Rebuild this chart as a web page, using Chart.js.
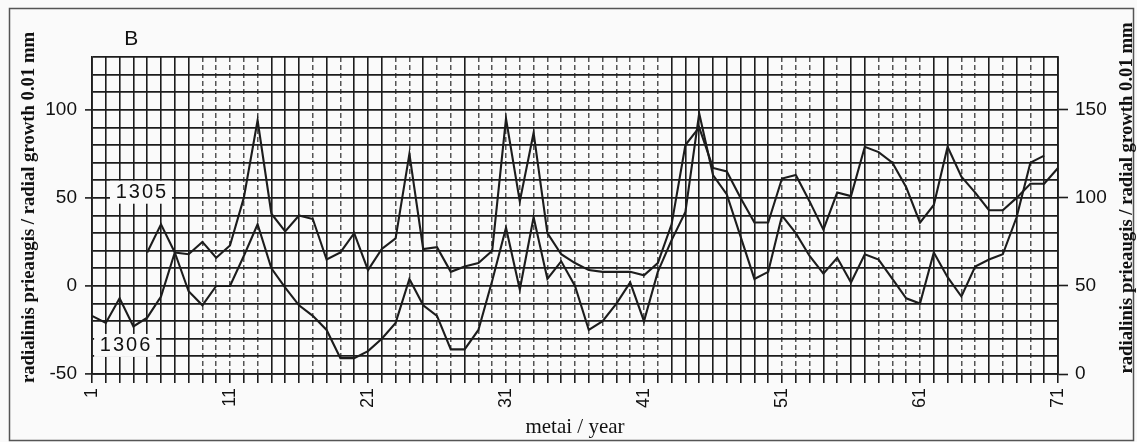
<!DOCTYPE html>
<html>
<head>
<meta charset="utf-8">
<script src="https://cdn.jsdelivr.net/npm/chart.js@4/dist/chart.umd.min.js"></script>
<style>
html,body{margin:0;padding:0;background:#fff;}
canvas{display:block;}
</style>
</head>
<body>
<canvas id="c" width="1137" height="442"></canvas>
<script>
// ---- data ----
const years = [1,2,3,4,5,6,7,8,9,10,11,12,13,14,15,16,17,18,19,20,
  21,22,23,24,25,26,27,28,29,30,31,32,33,34,35,36,37,38,39,40,
  41,42,43,44,45,46,47,48,49,50,51,52,53,54,55,56,57,58,59,60,
  61,62,63,64,65,66,67,68,69,70,71];

// sample 1305 – left axis
const series1305 = [null,null,null,null,19,35,19,18,25,16,
  23,50,94,41,31,40,38,15,19,30,
  9,21,27,75,21,22,8,11,13,20,
  95,48,87,30,18,13,9,8,8,8,
  6,13,35,80,90,67,65,50,36,36,
  61,63,48,32,53,51,79,76,70,56,
  36,46,79,62,53,43,43,50,58,58,67];

// sample 1306 – right axis
const series1306 = [33,29,43,27,32,44,69,47,39,50,
  50,67,85,60,49,39,33,25,9,9,
  13,20,29,54,39,33,14,14,25,53,
  83,48,89,54,64,50,25,30,40,52,
  30,58,76,92,148,113,102,78,54,58,
  90,80,67,57,66,52,68,65,54,43,
  40,69,55,44,61,65,68,89,120,124,null];

const leftTicks = [-50, 0, 50, 100];
const rightTicks = [0, 50, 100, 150];
const labeledYears = [1, 11, 21, 31, 41, 51, 61, 71];
const fadedYears = [9,10,11,12,13,17,19,23,24,26,27,29,30,31,32,33,34,35,36,37,38,39,40,41,42,51,52,53,55,58,59,60,61,64,65,67,69];
const seriesNames = ['1305', '1306'];
const axisTitle = 'radialinis prieaugis / radial growth 0.01 mm';
const xTitle = 'metai / year';
const panelLetter = 'B';

// ---- styling ----
const ink = '#1c1c1c';
const clear = 'rgba(0,0,0,0)';
const paper = '#fafafa';
const sans = '"Liberation Sans", Arial, sans-serif';
const serif = '"Liberation Serif", "Times New Roman", serif';

const decor = {
  id: 'decor',
  beforeDraw(chart) {
    const {ctx} = chart;
    ctx.save();
    ctx.fillStyle = paper;
    ctx.fillRect(0, 0, chart.width, chart.height);
    ctx.restore();
  },
  afterDraw(chart) {
    const {ctx, scales} = chart;
    const x = scales.x, y = scales.y;
    ctx.save();
    // outer frame
    ctx.strokeStyle = '#555';
    ctx.lineWidth = 1.5;
    ctx.strokeRect(9.5, 8.5, 1124, 432);

    // panel letter, with a gap in the top grid line
    const bx = x.getPixelForValue(2.85), by = 39;
    ctx.fillStyle = paper;
    ctx.fillRect(bx - 12, by - 14, 25, 26);
    ctx.fillStyle = '#111';
    ctx.font = '21px ' + sans;
    ctx.textAlign = 'center';
    ctx.textBaseline = 'middle';
    ctx.fillText(panelLetter, bx, by);

    // series labels with white boxes
    ctx.font = '20px ' + sans;
    if ('letterSpacing' in ctx) ctx.letterSpacing = '2px';
    const lab = [
      {t: seriesNames[0], xi: 3.55, yv: 53.5},
      {t: seriesNames[1], xi: 2.40, yv: -33.5}
    ];
    lab.forEach(l => {
      const px = x.getPixelForValue(l.xi), py = y.getPixelForValue(l.yv);
      ctx.fillStyle = paper;
      ctx.fillRect(px - 31, py - 11, 62, 23);
      ctx.fillStyle = '#111';
      ctx.fillText(l.t, px + 1, py + 1);
    });
    if ('letterSpacing' in ctx) ctx.letterSpacing = '0px';

    // axis titles (both read bottom-to-top)
    ctx.font = 'bold 18.7px ' + serif;
    ctx.fillStyle = '#111';
    [[29.5, 207.5], [1127, 198]].forEach(([tx, ty]) => {
      ctx.save();
      ctx.translate(tx, ty);
      ctx.rotate(-Math.PI / 2);
      ctx.fillText(axisTitle, 0, 0);
      ctx.restore();
    });
    ctx.restore();
  }
};

new Chart(document.getElementById('c'), {
  type: 'line',
  data: {
    labels: years,
    datasets: [
      {label: seriesNames[0], data: series1305, yAxisID: 'y', xAxisID: 'x',
       borderColor: ink, borderWidth: 2.1, pointRadius: 0, tension: 0, spanGaps: false},
      {label: seriesNames[1], data: series1306, yAxisID: 'y2', xAxisID: 'x',
       borderColor: ink, borderWidth: 2.1, pointRadius: 0, tension: 0, spanGaps: false}
    ]
  },
  options: {
    responsive: false,
    animation: false,
    devicePixelRatio: 1,
    events: [],
    layout: {padding: {top: 57, left: 0, right: 0, bottom: 0}},
    plugins: {legend: {display: false}, tooltip: {enabled: false}},
    scales: {
      x: {
        type: 'category', position: 'bottom', offset: false,
        grid: {
          color: c => fadedYears.includes(years[c.index]) ? clear : ink,
          lineWidth: 1.6, tickLength: 9, tickColor: ink, tickWidth: 1.6
        },
        border: {display: true, color: ink, width: 1.8},
        ticks: {
          autoSkip: false, minRotation: 90, maxRotation: 90, padding: 5,
          color: '#111', font: {family: sans, size: 18},
          callback: function (v, i) { return labeledYears.includes(years[i]) ? String(years[i]) : ''; }
        },
        title: {display: true, text: xTitle, color: '#111',
                font: {family: serif, size: 21}, padding: {top: 0, bottom: 2}},
        afterFit: s => { s.height = 68; }
      },
      x2: {
        type: 'category', position: 'bottom', offset: false,
        grid: {
          color: c => fadedYears.includes(years[c.index]) ? '#555' : clear,
          lineWidth: 1.5, drawTicks: false
        },
        border: {display: false, dash: [5, 3]},
        ticks: {display: false},
        afterFit: s => { s.height = 0; }
      },
      y: {
        position: 'left', min: -50, max: 130,
        ticks: {
          stepSize: 10, autoSkip: false, padding: 8, color: '#111',
          font: {family: sans, size: 19},
          callback: v => leftTicks.includes(v) ? String(v) : ''
        },
        grid: {
          color: ink, lineWidth: 1.8, tickLength: 7, tickWidth: 1.6,
          tickColor: c => (c.tick && leftTicks.includes(c.tick.value)) ? ink : clear
        },
        border: {display: true, color: ink, width: 1.8},
        afterFit: s => { s.width = 92; }
      },
      y2: {
        position: 'right', min: 0, max: 180,
        ticks: {
          stepSize: 10, autoSkip: false, padding: 7, color: '#111',
          font: {family: sans, size: 19},
          callback: v => rightTicks.includes(v) ? String(v) : ''
        },
        grid: {
          drawOnChartArea: false, color: ink, tickLength: 10, tickWidth: 1.6,
          tickColor: c => (c.tick && rightTicks.includes(c.tick.value)) ? ink : clear
        },
        border: {display: true, color: ink, width: 1.8},
        afterFit: s => { s.width = 79; }
      }
    }
  },
  plugins: [decor]
});
</script>
</body>
</html>
